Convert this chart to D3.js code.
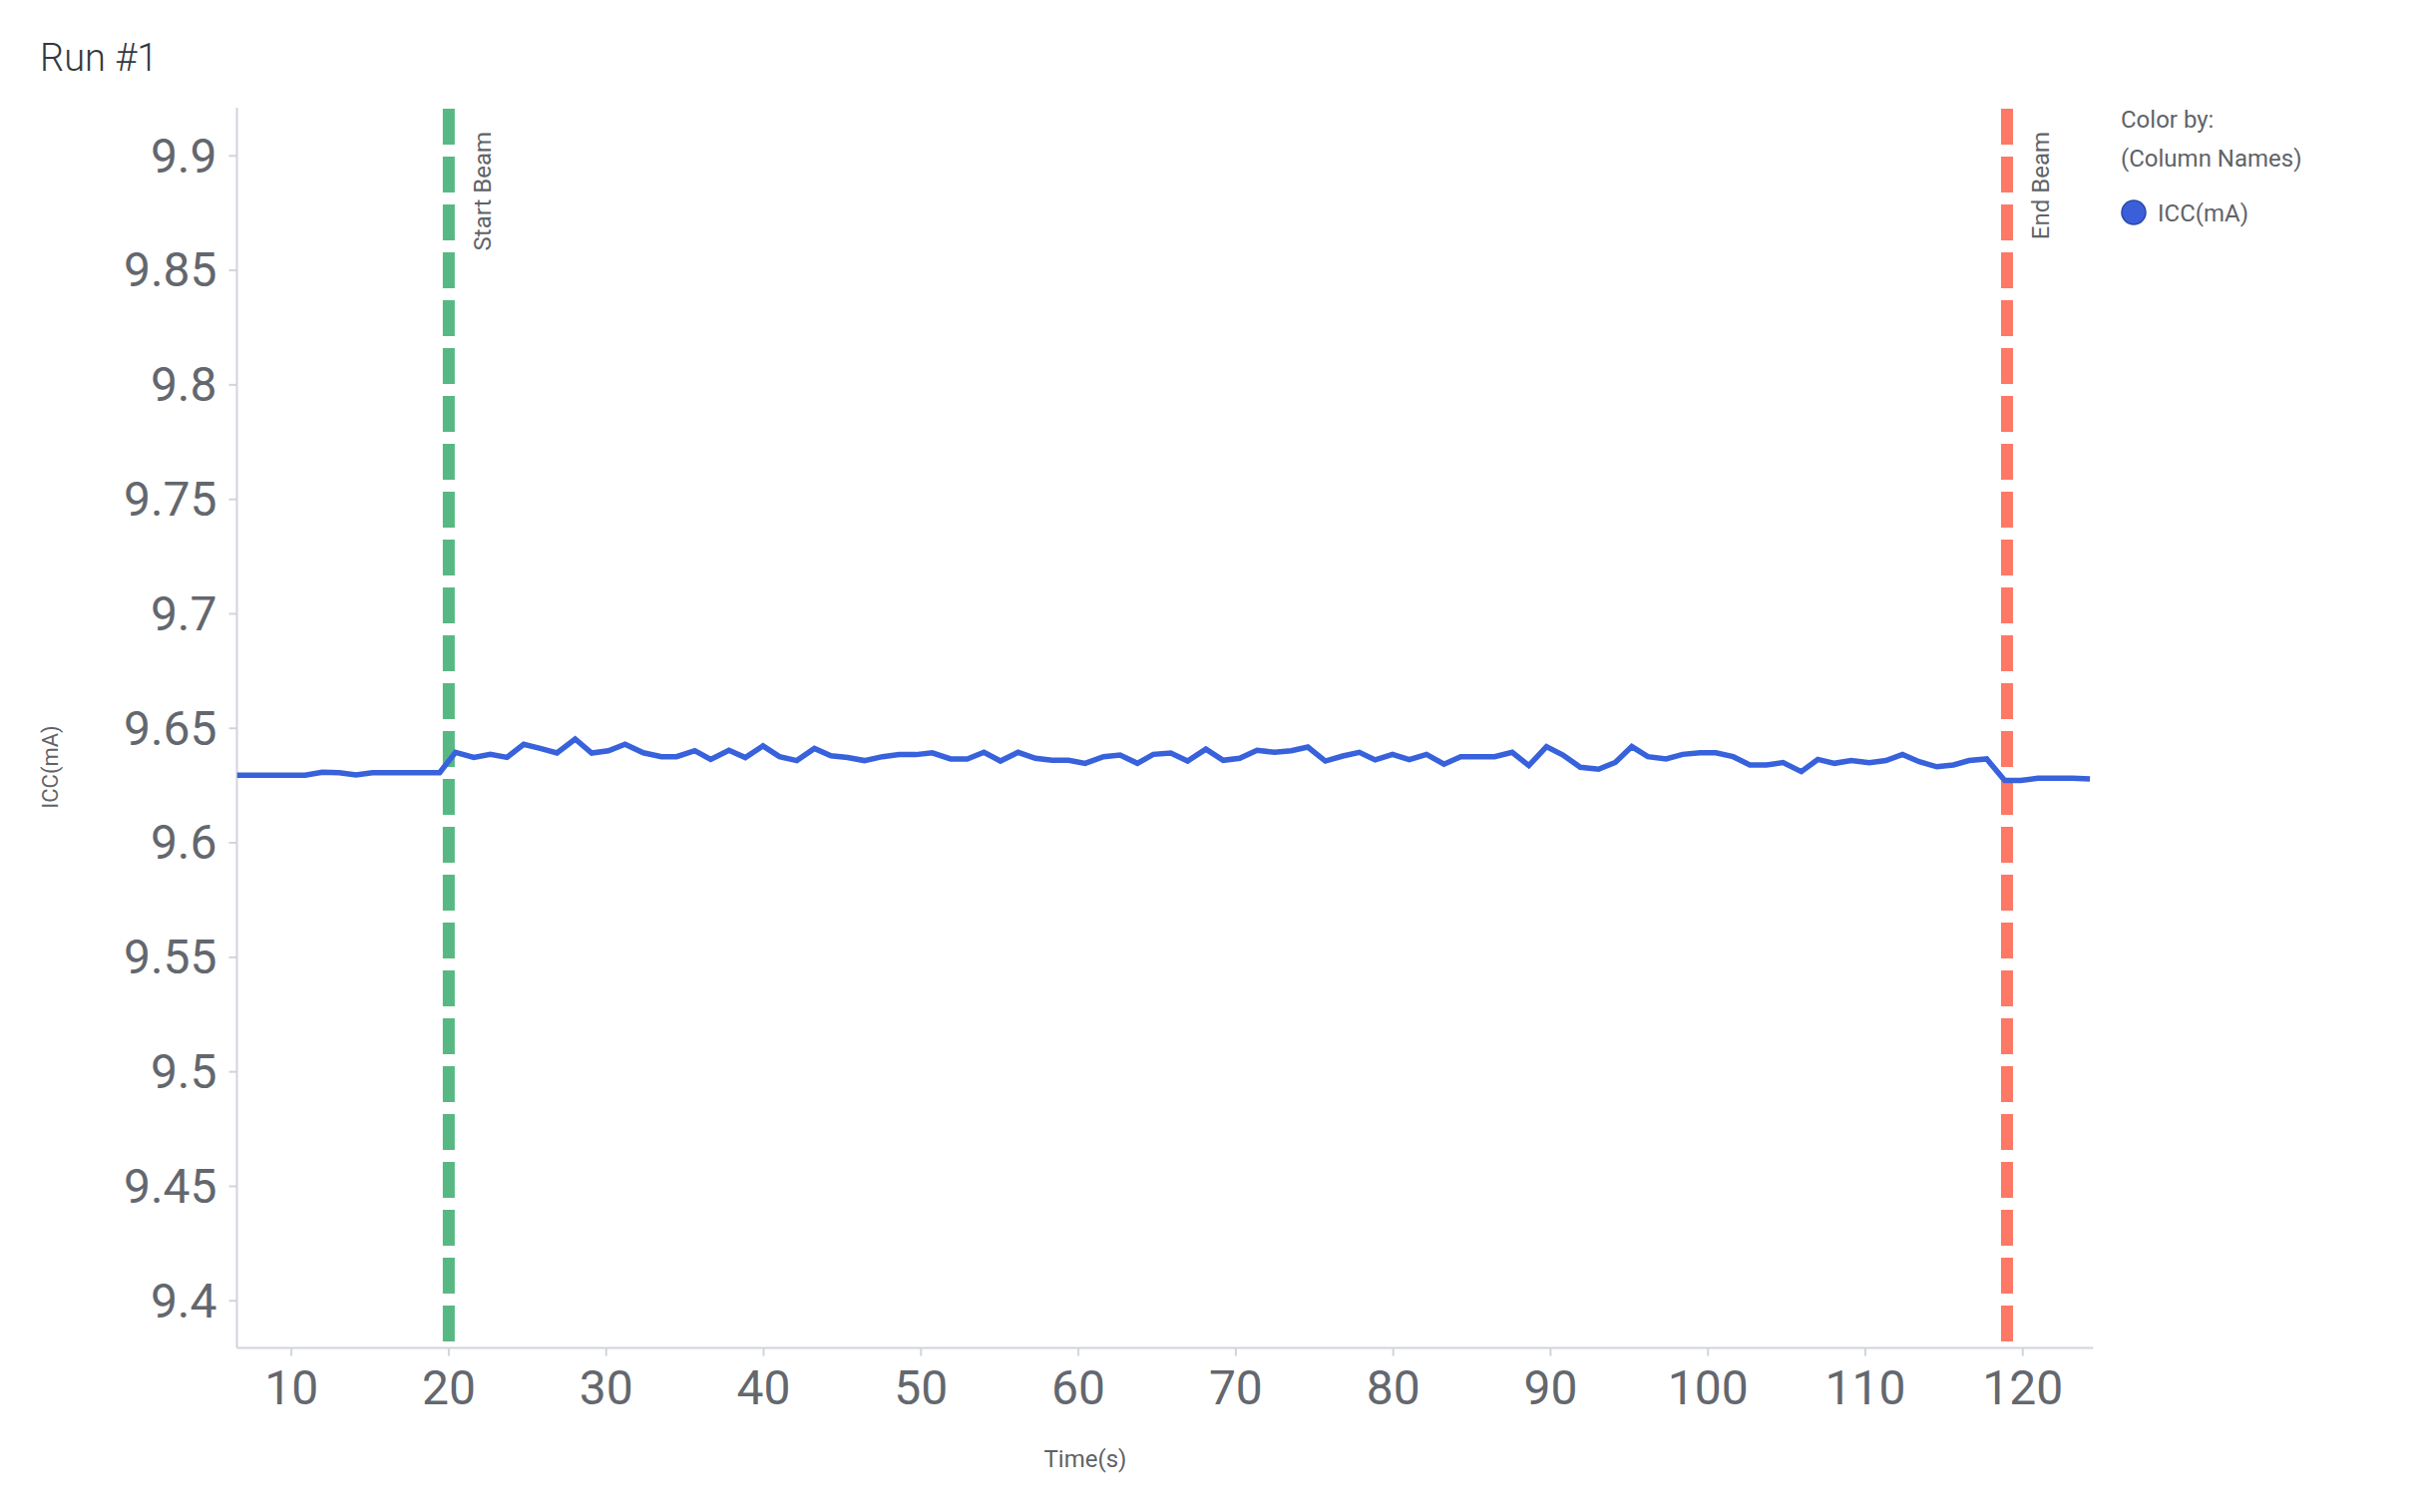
<!DOCTYPE html>
<html>
<head>
<meta charset="utf-8">
<script src="https://cdn.jsdelivr.net/npm/d3@7"></script>
<style>
  html, body { margin: 0; padding: 0; background: #ffffff; }
  svg { display: block; font-family: Roboto, "Noto Sans", sans-serif; }
</style>
</head>
<body>
<svg id="chart" width="2430" height="1516"></svg>
<script>
// ---- data ----
const title = "Run #1";
const xLabel = "Time(s)";
const yLabel = "ICC(mA)";
const seriesName = "ICC(mA)";
const legendTitle = ["Color by:", "(Column Names)"];

const times = [6.57, 7.63, 8.7, 9.76, 10.9, 12.0, 13.07, 14.13, 15.18, 16.24, 17.3, 18.37, 19.45,
  20.46, 21.62, 22.67, 23.73, 24.79, 25.84, 26.9, 28.06, 29.11, 30.17, 31.23, 32.39, 33.55, 34.5, 35.66,
  36.67, 37.83, 38.87, 39.99, 41.04, 42.14, 43.26, 44.31, 45.37, 46.43, 47.59, 48.64, 49.7, 50.75,
  51.91, 52.97, 54.03, 55.08, 56.2, 57.3, 58.35, 59.41, 60.46, 61.63, 62.68, 63.78, 64.79, 65.9,
  66.97, 68.13, 69.23, 70.28, 71.38, 72.5, 73.55, 74.61, 75.72, 76.83, 77.88, 78.89, 79.99, 81.05,
  82.15, 83.26, 84.32, 85.37, 86.47, 87.59, 88.65, 89.77, 90.82, 91.92, 93.08, 94.14, 95.19,
  96.21, 97.37, 98.42, 99.52, 100.53, 101.63, 102.69, 103.74, 104.8, 105.96, 107.01, 108.07, 109.13,
  110.28, 111.34, 112.39, 113.45, 114.57, 115.62, 116.62, 117.74, 118.88, 119.89, 120.99, 122.04,
  123.2, 124.3];

const icc = [9.6293, 9.6293, 9.6293, 9.6293, 9.6293, 9.6306, 9.6304, 9.6294, 9.6304, 9.6304, 9.6304, 9.6304, 9.6304,
  9.6393, 9.6371, 9.6384, 9.6371, 9.6428, 9.6410, 9.6390, 9.6451, 9.6390, 9.6400, 9.6428, 9.6391, 9.6374, 9.6374, 9.6400,
  9.6362, 9.6402, 9.6370, 9.6421, 9.6374, 9.6357, 9.6410, 9.6378, 9.6370, 9.6357, 9.6374, 9.6383, 9.6383, 9.6391,
  9.6364, 9.6364, 9.6393, 9.6355, 9.6393, 9.6367, 9.6358, 9.6358, 9.6345, 9.6374, 9.6381, 9.6345, 9.6384, 9.6390,
  9.6355, 9.6407, 9.6358, 9.6367, 9.6402, 9.6393, 9.6400, 9.6416, 9.6355, 9.6377, 9.6393, 9.6360, 9.6384, 9.6361,
  9.6384, 9.6341, 9.6374, 9.6374, 9.6374, 9.6393, 9.6335, 9.6418, 9.6381, 9.6328, 9.6319, 9.6349, 9.6418,
  9.6374, 9.6364, 9.6384, 9.6391, 9.6391, 9.6374, 9.6338, 9.6338, 9.6348, 9.6309, 9.6362, 9.6345, 9.6357,
  9.6348, 9.6357, 9.6384, 9.6352, 9.6330, 9.6338, 9.6357, 9.6364, 9.6270, 9.6270, 9.6280, 9.6280,
  9.6280, 9.6277];

const xTicks = [10, 20, 30, 40, 50, 60, 70, 80, 90, 100, 110, 120];
const yTicks = [9.4, 9.45, 9.5, 9.55, 9.6, 9.65, 9.7, 9.75, 9.8, 9.85, 9.9];
const xDomain = [6.57, 124.5];
const yDomain = [9.3792, 9.9208];

const markerTimes = [20.03, 119.03];
const markerLabels = ["Start Beam", "End Beam"];
const markerColors = ["#58b883", "#fe7866"];

// ---- layout ----
const plot = { left: 237.5, right: 2098.3, top: 108, bottom: 1351.5 };
const textColor = "#5f6368";
const axisColor = "#d2d4dd";
const lineColor = "#3862dc";

const svg = d3.select("#chart");

const x = d3.scaleLinear().domain(xDomain).range([plot.left, plot.right]);
const y = d3.scaleLinear().domain(yDomain).range([plot.bottom, plot.top]);

// title
svg.append("text")
  .attr("x", 40).attr("y", 71)
  .attr("font-size", 38).attr("font-weight", 300)
  .attr("fill", "#333840")
  .text(title);

// clip
svg.append("defs").append("clipPath").attr("id", "plotclip")
  .append("rect")
  .attr("x", plot.left).attr("y", plot.top)
  .attr("width", plot.right - plot.left).attr("height", plot.bottom - plot.top);

// y axis
const yAxis = d3.axisLeft(y).tickValues(yTicks).tickSize(8).tickPadding(12)
  .tickFormat(d3.format("~g"));
const gy = svg.append("g").attr("transform", `translate(${plot.left},0)`).call(yAxis);
gy.select(".domain").attr("stroke", axisColor).attr("stroke-width", 2)
  .attr("d", `M0,${plot.top}V${plot.bottom}`);
gy.selectAll(".tick line").attr("stroke", axisColor).attr("stroke-width", 2);
gy.selectAll(".tick text").attr("fill", "#63676e").attr("font-size", 48)
  .attr("font-family", "Roboto, sans-serif").attr("dy", "0.34em");

// x axis
const xAxis = d3.axisBottom(x).tickValues(xTicks).tickSize(8).tickPadding(14)
  .tickFormat(d3.format("d"));
const gx = svg.append("g").attr("transform", `translate(0,${plot.bottom})`).call(xAxis);
gx.select(".domain").attr("stroke", axisColor).attr("stroke-width", 2)
  .attr("d", `M${plot.left},0H${plot.right}`);
gx.selectAll(".tick line").attr("stroke", axisColor).attr("stroke-width", 2);
gx.selectAll(".tick text").attr("fill", "#63676e").attr("font-size", 48)
  .attr("font-family", "Roboto, sans-serif").attr("dy", "0.71em");

// axis titles
svg.append("text")
  .attr("x", 1088).attr("y", 1471)
  .attr("text-anchor", "middle")
  .attr("font-size", 24).attr("fill", textColor)
  .text(xLabel);

svg.append("text")
  .attr("transform", "translate(58,769) rotate(-90)")
  .attr("text-anchor", "middle")
  .attr("font-size", 22).attr("fill", textColor)
  .text(yLabel);

// marker lines
const markers = markerTimes.map((t, i) => ({ t, label: markerLabels[i], color: markerColors[i] }));
const gm = svg.append("g").attr("clip-path", "url(#plotclip)");
gm.selectAll("line.marker").data(markers).join("line")
  .attr("class", "marker")
  .attr("x1", d => x(d.t)).attr("x2", d => x(d.t))
  .attr("y1", plot.top + 1).attr("y2", plot.bottom)
  .attr("stroke", d => d.color).attr("stroke-width", 12)
  .attr("stroke-dasharray", "36,12");

svg.selectAll("text.marker-label").data(markers).join("text")
  .attr("class", "marker-label")
  .attr("transform", d => `translate(${x(d.t) + 42},132) rotate(-90)`)
  .attr("text-anchor", "end")
  .attr("font-size", 24).attr("fill", textColor)
  .text(d => d.label);

// series line
const pts = times.map((t, i) => ({ t, v: icc[i] }));
const line = d3.line().x(d => x(d.t)).y(d => y(d.v));
svg.append("g").attr("clip-path", "url(#plotclip)")
  .append("path")
  .datum(pts)
  .attr("d", line)
  .attr("fill", "none")
  .attr("stroke", lineColor)
  .attr("stroke-width", 5.5)
  .attr("stroke-linejoin", "miter");

// legend
const lg = svg.append("g");
lg.selectAll("text.lt").data(legendTitle).join("text")
  .attr("class", "lt")
  .attr("x", 2126).attr("y", (d, i) => 128 + i * 39)
  .attr("font-size", 24).attr("fill", textColor)
  .text(d => d);
lg.append("circle")
  .attr("cx", 2139).attr("cy", 213).attr("r", 12)
  .attr("fill", "#3a5fd9").attr("stroke", "#2b48a6").attr("stroke-width", 1.5);
lg.append("text")
  .attr("x", 2163).attr("y", 221.5)
  .attr("font-size", 24).attr("fill", textColor)
  .text(seriesName);
</script>
</body>
</html>
